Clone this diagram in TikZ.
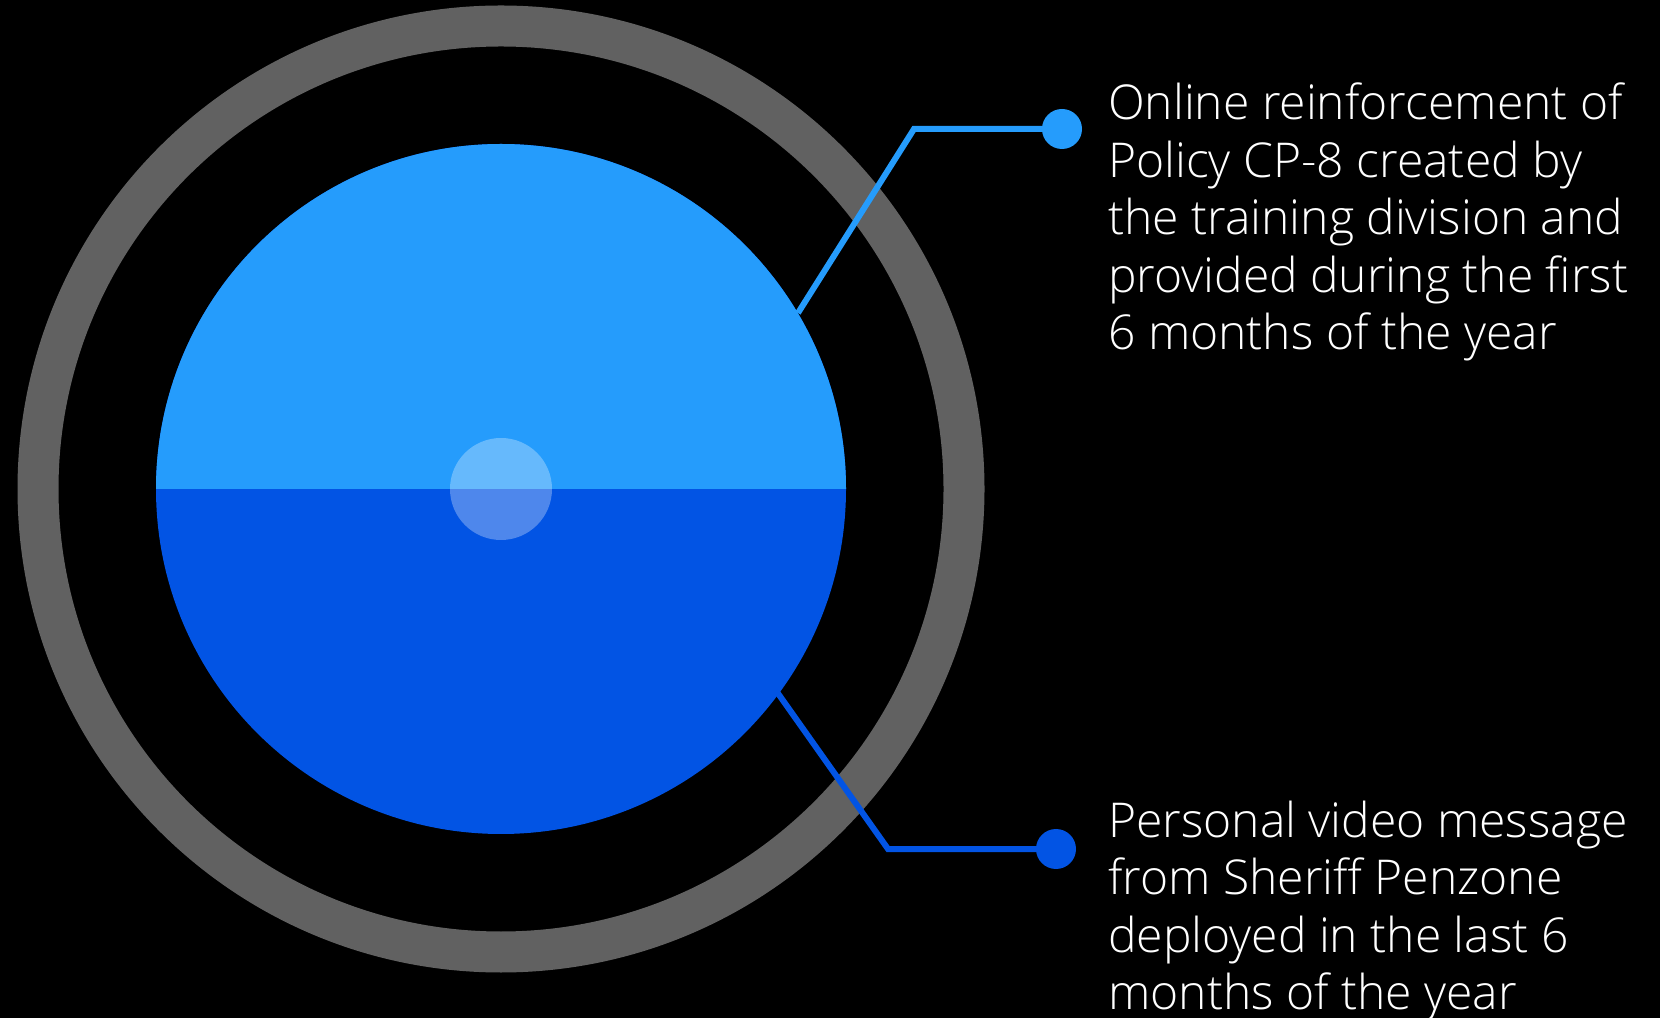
\documentclass[tikz,border=0pt]{standalone}
\usepackage{fontspec}
\setmainfont{Open Sans Light}
\usepackage{tikz}
\usetikzlibrary{positioning}
\definecolor{ring}{HTML}{616161}
\definecolor{upblue}{HTML}{259CFC}
\definecolor{lowblue}{HTML}{0254E4}
\begin{document}
\begin{tikzpicture}[
  x=1pt,y=1pt,
  dot/.style={circle,minimum size=40pt,inner sep=0pt},
  lead/.style={line width=6pt,line join=miter},
  note/.style={anchor=base west,inner sep=0pt,align=left,text=white,
    font=\fontsize{48}{57.5}\selectfont}
]
\fill[black] (0,0) rectangle (1660,1018);
\useasboundingbox (0,0) rectangle (1660,1018);
\coordinate (c) at (501,529);
% rings and disc
\draw[ring,line width=41pt] (c) circle[radius=463];
\fill[lowblue] (c) circle[radius=345];
\fill[upblue] (c) ++(-345,0) arc[start angle=180,end angle=0,radius=345] -- cycle;
\fill[white,opacity=.3] (c) circle[radius=51];
% leaders
\coordinate (s1) at (798,705);
\coordinate (k1) at (914,889);
\node[dot,fill=upblue] (d1) at (1062,889) {};
\coordinate (s2) at (777,326);
\coordinate (k2) at (888,169);
\node[dot,fill=lowblue] (d2) at (1056,169) {};
\draw[lead,upblue] (s1) -- (k1) -- (d1.center);
\draw[lead,lowblue] (s2) -- (k2) -- (d2.center);
% texts (anchored at the last line)
\node[note] (t1) at (1108,668) {Online reinforcement of\\Policy CP-8 created by\\the training division and\\provided during the first\\6 months of the year};
\node[note] (t2) at (1108,8.5) {Personal video message\\from Sheriff Penzone\\deployed in the last 6\\months of the year};
\end{tikzpicture}
\end{document}
